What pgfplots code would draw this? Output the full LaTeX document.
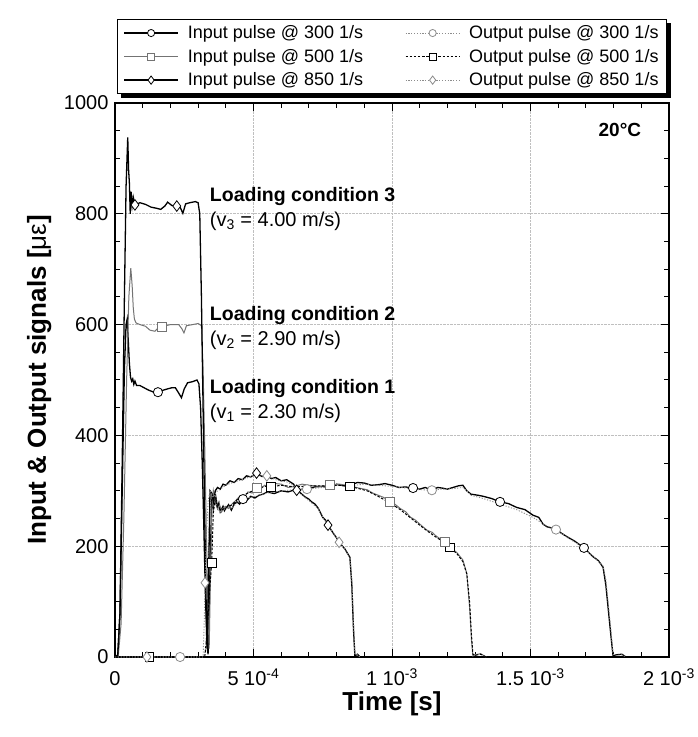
\documentclass[border=0pt]{standalone}
\usepackage{fontspec}
\setmainfont{Liberation Sans}
\usepackage{pgfplots}
\usepackage{pgfplotstable}
\pgfplotsset{compat=1.18}
\usetikzlibrary{calc,backgrounds}

% ---------- data (time in ms, strain in microstrain) ----------
\pgfplotstableread{
t v
0 0
0.010 4
0.018 80
0.026 300
0.034 520
0.040 600
0.044 610
0.048 570
0.052 530
0.056 505
0.060 498
0.064 502
0.068 492
0.072 498
0.078 490
0.090 490
0.105 486
0.120 482
0.140 478
0.155 478
0.170 481
0.190 484
0.205 486
0.218 486
0.228 478
0.240 468
0.250 484
0.262 495
0.280 497
0.296 500
0.303 493
0.309 450
0.315 350
0.320 250
0.326 120
0.332 20
0.336 5
0.340 90
0.345 200
0.350 290
0.355 270
0.362 295
0.370 270
0.375 278
0.380 262
0.390 272
0.395 264
0.400 268
0.410 275
0.420 265
0.430 276
0.440 280
0.450 276
0.462 285
0.475 282
0.490 290
0.505 287
0.520 292
0.535 294
0.550 298
0.575 295
0.600 300
0.625 298
0.650 302
0.693 303
0.720 307
0.750 308
0.775 305
0.800 312
0.825 309
0.850 310
0.875 315
0.900 314
0.925 310
0.950 311
0.975 313
1.000 310
1.025 306
1.050 307
1.075 304
1.100 303
1.120 306
1.144 301
1.165 306
1.180 305
1.200 303
1.220 306
1.240 309
1.256 310
1.270 300
1.285 294
1.310 292
1.330 290
1.360 286
1.390 280
1.420 277
1.450 270
1.480 266
1.509 256
1.530 252
1.545 240
1.560 235
1.592 231
1.610 224
1.632 217
1.660 209
1.693 197
1.726 181
1.745 174
1.762 162
1.772 130
1.780 90
1.790 40
1.798 2
1.810 4
1.830 5
1.845 0
}\inA
\pgfplotstableread{
t v
0 0
0.318 0
0.326 10
0.332 60
0.336 150
0.340 230
0.345 280
0.350 295
0.355 275
0.362 290
0.370 268
0.380 262
0.390 268
0.400 266
0.410 272
0.420 268
0.440 278
0.462 285
0.490 288
0.520 292
0.550 296
0.600 300
0.650 302
0.693 303
0.750 306
0.800 310
0.850 309
0.900 312
0.950 310
1.000 308
1.050 305
1.100 302
1.144 301
1.180 303
1.220 304
1.256 306
1.270 300
1.285 292
1.330 286
1.390 276
1.450 266
1.509 252
1.560 236
1.592 230
1.632 216
1.693 197
1.726 182
1.762 164
1.772 140
1.780 100
1.790 50
1.798 5
1.810 3
1.830 4
1.845 0
}\outA
\pgfplotstableread{
t v
0 0
0.012 3
0.022 60
0.032 250
0.042 500
0.050 650
0.057 702
0.062 670
0.066 630
0.070 610
0.076 603
0.090 600
0.110 597
0.126 590
0.144 588
0.160 596
0.175 597
0.200 600
0.230 600
0.242 592
0.249 585
0.258 598
0.280 600
0.300 602
0.312 598
0.318 520
0.324 380
0.330 220
0.336 80
0.340 15
0.345 150
0.350 270
0.355 300
0.362 278
0.370 268
0.378 274
0.385 262
0.393 270
0.400 272
0.410 268
0.420 275
0.435 282
0.450 290
0.465 287
0.480 298
0.495 296
0.511 305
0.525 303
0.540 310
0.563 307
0.580 313
0.600 312
0.625 306
0.650 308
0.675 312
0.700 310
0.740 308
0.776 310
0.810 312
0.848 309
0.880 305
0.910 302
0.930 296
0.950 292
0.970 288
0.993 280
1.010 276
1.030 268
1.050 262
1.065 253
1.085 247
1.100 240
1.126 229
1.145 225
1.160 218
1.191 208
1.209 199
1.235 188
1.256 175
1.270 151
1.280 90
1.287 30
1.292 2
1.300 4
1.320 6
1.340 0
}\inB
\pgfplotstableread{
t v
0 0
0.324 0
0.332 40
0.340 110
0.349 170
0.355 260
0.362 285
0.370 270
0.385 265
0.400 270
0.420 274
0.450 288
0.480 296
0.511 303
0.540 308
0.563 307
0.600 310
0.650 307
0.700 309
0.776 309
0.810 310
0.848 308
0.880 304
0.910 300
0.950 290
0.993 278
1.030 266
1.065 252
1.100 238
1.126 228
1.160 216
1.191 206
1.209 198
1.235 186
1.256 172
1.270 150
1.280 100
1.287 40
1.292 5
1.300 3
1.320 5
1.340 0
}\outB
\pgfplotstableread{
t v
0 0
0.010 3
0.018 80
0.026 350
0.034 650
0.040 850
0.046 938
0.049 880
0.052 855
0.055 800
0.058 840
0.062 815
0.066 830
0.072 816
0.090 820
0.110 817
0.130 812
0.150 810
0.165 808
0.180 814
0.190 821
0.205 815
0.223 814
0.235 812
0.245 801
0.255 818
0.270 820
0.290 822
0.300 820
0.306 800
0.312 650
0.318 450
0.324 250
0.329 100
0.333 15
0.338 150
0.343 300
0.350 295
0.355 280
0.362 300
0.370 306
0.380 303
0.390 312
0.400 310
0.415 318
0.430 315
0.445 322
0.460 320
0.475 327
0.490 325
0.511 332
0.530 326
0.548 327
0.565 322
0.580 324
0.600 318
0.620 320
0.645 312
0.656 301
0.670 296
0.686 289
0.700 285
0.710 280
0.722 276
0.733 269
0.750 252
0.760 247
0.769 238
0.790 222
0.800 215
0.809 207
0.830 195
0.848 180
0.855 130
0.861 50
0.866 2
0.875 5
0.885 0
}\inC
\pgfplotstableread{
t v
0 0
0.318 0
0.322 60
0.325 134
0.330 220
0.336 280
0.343 300
0.355 288
0.365 298
0.380 303
0.400 310
0.430 316
0.460 320
0.490 326
0.511 330
0.530 325
0.548 327
0.580 320
0.620 316
0.645 310
0.656 300
0.686 288
0.710 278
0.733 268
0.750 252
0.769 238
0.790 223
0.809 207
0.830 194
0.848 178
0.855 140
0.861 60
0.866 5
0.875 4
0.885 0
}\outC

\definecolor{midgray}{gray}{0.45}
\definecolor{litegray}{gray}{0.55}

\pgfplotsset{
  legimg/.style={legend image code/.code={%
    \draw[mark repeat=2,mark phase=2,every mark/.append style={scale=0.78}]
      plot coordinates {(0pt,0pt) (27pt,0pt) (54pt,0pt)};
    \path (61pt,0pt);}},
  nomk/.style={mark repeat=100000, mark phase=100000},
  sIn300/.style={black, line width=1.3pt, mark=*, mark size=4.6pt,
    mark options={solid, fill=white, draw=black, line width=0.8pt}},
  sOut300/.style={litegray, line width=0.9pt, dash pattern=on 1.2pt off 1.6pt, mark=*, mark size=4.6pt,
    mark options={solid, fill=white, draw=litegray, line width=0.8pt}},
  sIn500/.style={midgray, line width=1.0pt, mark=square*, mark size=4.4pt,
    mark options={solid, fill=white, draw=midgray, line width=0.8pt}},
  sOut500/.style={black, line width=1.0pt, dash pattern=on 2.5pt off 1.6pt, mark=square*, mark size=4.4pt,
    mark options={solid, fill=white, draw=black, line width=0.8pt}},
  sIn850/.style={black, line width=1.3pt, mark=diamond*, mark size=5.3pt,
    mark options={solid, fill=white, draw=black, line width=0.8pt}},
  sOut850/.style={litegray, line width=0.9pt, dash pattern=on 1.2pt off 1.6pt, mark=diamond*, mark size=5.3pt,
    mark options={solid, fill=white, draw=litegray, line width=0.8pt}},
}

\begin{document}
\begin{tikzpicture}
\begin{axis}[
  scale only axis, width=554pt, height=554pt,
  xmin=0, xmax=2, ymin=0, ymax=1000,
  xtick={0,0.5,1,1.5,2},
  xticklabels={0, {5 10\textsuperscript{-4}}, {1 10\textsuperscript{-3}}, {1.5 10\textsuperscript{-3}}, {2 10\textsuperscript{-3}}},
  ytick={0,200,...,1000},
  minor x tick num=4, minor y tick num=3,
  tick align=inside,
  major tick length=8pt, minor tick length=5pt,
  every tick/.style={black, line width=1pt},
  grid=major,
  major grid style={densely dotted, gray!50, line width=0.7pt},
  axis line style={line width=1.2pt},
  /pgf/number format/assume math mode=true,
  /pgf/number format/set thousands separator={},
  tick label style={font=\fontsize{20}{24}\selectfont},
  xticklabel style={text height=15pt, text depth=4pt, yshift=-10pt},
  yticklabel style={xshift=-3pt},
  xlabel={Time [s]},
  ylabel={Input \& Output signals [\textmd{με}]},
  label style={font=\bfseries\fontsize{26}{30}\selectfont},
  xlabel style={at={(axis description cs:0.5,-0.085)}, anchor=center},
  ylabel style={at={(axis description cs:-0.137,0.5)}, anchor=center},
  legend columns=2,
  legend style={at={(0.5,1)}, anchor=south, yshift=9pt, name=leg,
    draw=black, line width=1.2pt, fill=white,
    font=\fontsize{18}{21}\selectfont,
    cells={anchor=west},
    inner xsep=6pt, inner ysep=4pt, row sep=5pt,
    /tikz/every even column/.append style={column sep=40pt}},
  legimg,
]
% main curves
\addplot[sIn300, nomk] table[x=t,y=v] {\inA};
\addlegendentry{Input pulse @ 300 1/s}
\addplot[sOut300, nomk] table[x=t,y=v] {\outA};
\addlegendentry{Output pulse @ 300 1/s}
\addplot[sIn500, nomk] table[x=t,y=v] {\inB};
\addlegendentry{Input pulse @ 500 1/s}
\addplot[sOut500, nomk] table[x=t,y=v] {\outB};
\addlegendentry{Output pulse @ 500 1/s}
\addplot[sIn850, nomk] table[x=t,y=v] {\inC};
\addlegendentry{Input pulse @ 850 1/s}
\addplot[sOut850, nomk] table[x=t,y=v] {\outC};
\addlegendentry{Output pulse @ 850 1/s}

% markers
\addplot[sOut300, only marks, forget plot] coordinates {(0.235,0) (0.693,303) (1.144,301) (1.592,230)};
\addplot[sOut500, only marks, forget plot] coordinates {(0.124,0) (0.349,170) (0.563,307) (0.848,308) (1.209,198)};
\addplot[sOut850, only marks, forget plot] coordinates {(0.115,0) (0.325,134) (0.548,327) (0.809,207)};
\addplot[sIn300, only marks, forget plot] coordinates {(0.155,478) (0.462,285) (1.076,305) (1.390,280) (1.693,197)};
\addplot[sIn500, only marks, forget plot] coordinates {(0.170,596) (0.511,305) (0.776,310) (0.993,280) (1.191,208)};
\addplot[sIn850, only marks, forget plot] coordinates {(0.072,816) (0.223,814) (0.511,332) (0.656,301) (0.769,238)};

% annotations
\node[anchor=west, inner sep=0, font=\bfseries\fontsize{19.5}{22}\selectfont] at (axis cs:0.342,832) {Loading condition 3};
\node[anchor=west, inner sep=0, font=\fontsize{20}{22}\selectfont] at (axis cs:0.342,787) {(v\textsubscript{3} = 4.00 m/s)};
\node[anchor=west, inner sep=0, font=\bfseries\fontsize{19.5}{22}\selectfont] at (axis cs:0.342,616) {Loading condition 2};
\node[anchor=west, inner sep=0, font=\fontsize{20}{22}\selectfont] at (axis cs:0.342,572) {(v\textsubscript{2} = 2.90 m/s)};
\node[anchor=west, inner sep=0, font=\bfseries\fontsize{19.5}{22}\selectfont] at (axis cs:0.342,484) {Loading condition 1};
\node[anchor=west, inner sep=0, font=\fontsize{20}{22}\selectfont] at (axis cs:0.342,440) {(v\textsubscript{1} = 2.30 m/s)};
\node[anchor=east, inner sep=0, font=\bfseries\fontsize{19}{22}\selectfont] at (axis cs:1.90,951) {20°C};

\coordinate (bl) at (rel axis cs:0,0);
\coordinate (tr) at (rel axis cs:1,1);
\end{axis}
\begin{scope}[on background layer]
  \fill[black] ($(leg.south west)+(4pt,-4pt)$) rectangle ($(leg.north east)+(4pt,-4pt)$);
\end{scope}
\pgfresetboundingbox
\path[use as bounding box] ($(bl)+(-115pt,-80pt)$) rectangle ($(tr)+(29pt,103pt)$);
\end{tikzpicture}
\end{document}
